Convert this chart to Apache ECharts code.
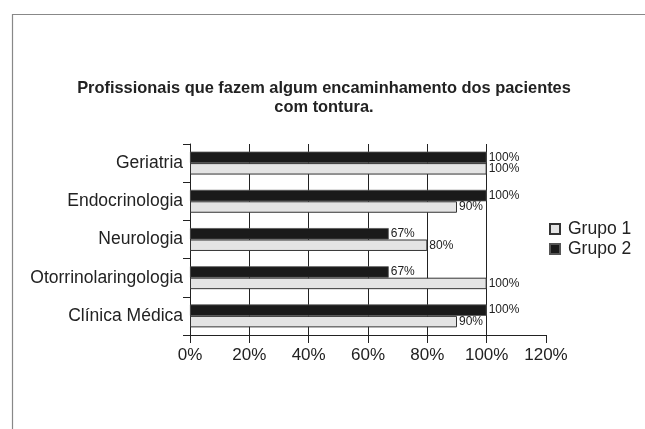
<!DOCTYPE html>
<html>
<head>
<meta charset="utf-8">
<script src="https://cdn.jsdelivr.net/npm/echarts@6/dist/echarts.min.js"></script>
<style>
html,body{margin:0;padding:0;background:#fff;}
#chart{width:645px;height:429px;}
</style>
</head>
<body>
<div id="chart"></div>
<script>
const titleText = 'Profissionais que fazem algum encaminhamento dos pacientes\ncom tontura.';
const categories = ['Geriatria', 'Endocrinologia', 'Neurologia', 'Otorrinolaringologia', 'Clínica Médica'];
const grupo1 = [100, 90, 80, 100, 90];
const grupo2 = [100, 100, 67, 67, 100];
const seriesNames = ['Grupo 1', 'Grupo 2'];
const xTicks = [0, 20, 40, 60, 80, 100, 120];

const FONT = '"Liberation Sans", Arial, sans-serif';
const chart = echarts.init(document.getElementById('chart'), null, {renderer: 'canvas'});

const labelCfg = {
  show: true,
  position: 'right',
  distance: 2,
  fontSize: 12,
  fontFamily: FONT,
  color: '#222',
  formatter: p => p.value + '%'
};

chart.setOption({
  animation: false,
  backgroundColor: '#fff',
  graphic: [{
    type: 'rect',
    left: 10, top: 12,
    shape: {width: 700, height: 500},
    style: {fill: 'none', stroke: '#888', lineWidth: 1.2},
    silent: true
  }],
  title: {
    text: titleText,
    left: 319,
    textAlign: 'center',
    top: 74,
    textStyle: {fontFamily: FONT, fontSize: 16.4, fontWeight: 'bold', color: '#222', lineHeight: 19}
  },
  legend: {
    data: seriesNames,
    orient: 'vertical',
    left: 544,
    top: 215,
    icon: 'rect',
    itemWidth: 10,
    itemHeight: 10,
    itemGap: 2,
    textStyle: {fontFamily: FONT, fontSize: 17.5, lineHeight: 17, color: '#222', padding: [0, 0, 0, 3]}
  },
  grid: {
    left: 190, top: 144, width: 356, height: 191,
    outerBoundsMode: 'none'
  },
  xAxis: {
    type: 'value',
    min: xTicks[0], max: xTicks[xTicks.length - 1], interval: 20,
    axisLine: {show: true, lineStyle: {color: '#222', width: 1}},
    axisTick: {show: true, length: 8, lineStyle: {color: '#222'}},
    axisLabel: {fontFamily: FONT, fontSize: 17, color: '#222', margin: 12, formatter: '{value}%'},
    splitLine: {show: true, lineStyle: {color: ['#222', '#222', '#222', '#222', '#222', '#222', 'rgba(0,0,0,0)'], width: 1}}
  },
  yAxis: {
    type: 'category',
    data: categories,
    inverse: true,
    axisLine: {show: true, lineStyle: {color: '#222', width: 1}},
    axisTick: {show: true, length: 7, lineStyle: {color: '#222'}},
    axisLabel: {fontFamily: FONT, fontSize: 17.5, color: '#222', margin: 7}
  },
  series: [
    {
      name: seriesNames[1],
      type: 'bar',
      data: grupo2,
      barGap: '0%',
      barCategoryGap: '40%',
      itemStyle: {color: '#1a1a1a', borderColor: '#555', borderWidth: 0.8},
      label: labelCfg
    },
    {
      name: seriesNames[0],
      type: 'bar',
      data: grupo1,
      barGap: '0%',
      barCategoryGap: '40%',
      itemStyle: {color: '#e4e4e4', borderColor: '#333', borderWidth: 1},
      label: labelCfg
    }
  ]
});
</script>
</body>
</html>
